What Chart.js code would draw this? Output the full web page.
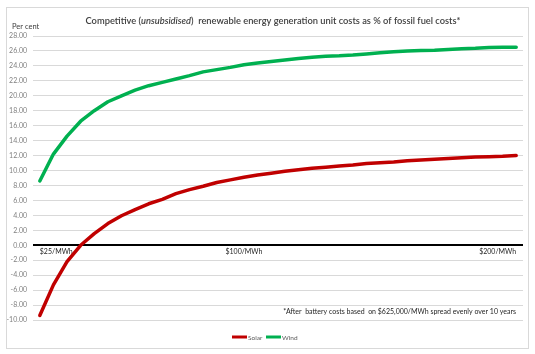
<!DOCTYPE html>
<html>
<head>
<meta charset="utf-8">
<script src="https://cdn.jsdelivr.net/npm/chart.js@4.4.1/dist/chart.umd.min.js"></script>
<style>
  html, body { margin: 0; padding: 0; background: #fff; }
  #wrap { width: 535px; height: 354px; position: relative; }
</style>
</head>
<body>
<div id="wrap"><canvas id="costChart"></canvas></div>
<script>
// generation cost, $/MWh
const prices = [25, 30, 35, 40, 45, 50, 55, 60, 65, 70, 75, 80, 85, 90, 95, 100, 105, 110,
                115, 120, 125, 130, 135, 140, 145, 150, 155, 160, 165, 170, 175, 180, 185, 190, 195, 200];
const labeledPrices = [25, 100, 200];

const solar = [-9.4, -5.3, -2.2, 0.0, 1.55, 2.9, 3.95, 4.78, 5.55, 6.15, 6.9, 7.45,
               7.9, 8.4, 8.75, 9.1, 9.4, 9.65, 9.9, 10.1, 10.3, 10.45, 10.6, 10.75,
               10.95, 11.05, 11.15, 11.3, 11.4, 11.5, 11.6, 11.7, 11.8, 11.85, 11.9, 12.0];
const wind = [8.6, 12.2, 14.6, 16.6, 18.0, 19.2, 20.0, 20.75, 21.35, 21.8, 22.25, 22.7,
              23.2, 23.5, 23.8, 24.15, 24.4, 24.6, 24.8, 25.0, 25.15, 25.3, 25.35, 25.45,
              25.6, 25.75, 25.9, 26.0, 26.05, 26.1, 26.2, 26.3, 26.35, 26.45, 26.5, 26.5];

const yMin = -10, yMax = 28, yStep = 2;

const FONT = "Lato, 'Open Sans', sans-serif";
const SOLAR_COLOR = '#C00000';
const WIND_COLOR = '#00B050';

const decor = {
  id: 'decor',
  beforeDraw(chart) {
    const ctx = chart.ctx;
    ctx.save();
    ctx.strokeStyle = '#d9d9d9';
    ctx.lineWidth = 1;
    ctx.strokeRect(6.5, 7.5, 522, 341);
    ctx.restore();
  },
  afterDraw(chart) {
    const ctx = chart.ctx;
    ctx.save();
    ctx.textBaseline = 'middle';

    // title with italic part, sized to span about 373px like the original
    const parts = [
      { t: 'Competitive (', style: '' },
      { t: 'unsubsidised', style: 'italic ' },
      { t: ')  renewable energy generation unit costs as % of fossil fuel costs*', style: '' }
    ];
    let total = 0;
    parts.forEach(p => { ctx.font = p.style + '10px ' + FONT; total += ctx.measureText(p.t).width; });
    const size = Math.min(11, 10 * 373 / total);
    total = 0;
    parts.forEach(p => { p.f = p.style + '600 ' + size + 'px ' + FONT; ctx.font = p.f; p.w = ctx.measureText(p.t).width; total += p.w; });
    let x = 273 - total / 2;
    ctx.fillStyle = '#404040';
    ctx.textAlign = 'left';
    parts.forEach(p => { ctx.font = p.f; ctx.fillText(p.t, x, 21); x += p.w; });

    // axis caption
    ctx.font = '7.5px ' + FONT;
    ctx.fillStyle = '#404040';
    ctx.fillText('Per cent', 12, 27);

    // footnote
    ctx.font = '7px ' + FONT;
    ctx.fillStyle = '#262626';
    ctx.textAlign = 'right';
    ctx.fillText('*After  battery costs based  on $625,000/MWh spread evenly over 10 years', 516, 312);

    // legend
    const items = [
      { label: 'Solar', color: SOLAR_COLOR, x: 232 },
      { label: 'Wind', color: WIND_COLOR, x: 266 }
    ];
    ctx.font = '6.5px ' + FONT;
    ctx.textAlign = 'left';
    items.forEach(it => {
      ctx.strokeStyle = it.color;
      ctx.lineWidth = 3;
      ctx.beginPath();
      ctx.moveTo(it.x, 337);
      ctx.lineTo(it.x + 15, 337);
      ctx.stroke();
      ctx.fillStyle = '#595959';
      ctx.fillText(it.label, it.x + 16, 337.5);
    });
    ctx.restore();
  }
};

new Chart(document.getElementById('costChart'), {
  type: 'line',
  data: {
    labels: prices,
    datasets: [
      { label: 'Solar', data: solar, borderColor: SOLAR_COLOR, backgroundColor: SOLAR_COLOR,
        borderWidth: 3.5, pointRadius: 0, tension: 0, borderCapStyle: 'round', borderJoinStyle: 'round' },
      { label: 'Wind', data: wind, borderColor: WIND_COLOR, backgroundColor: WIND_COLOR,
        borderWidth: 3.5, pointRadius: 0, tension: 0, borderCapStyle: 'round', borderJoinStyle: 'round' }
    ]
  },
  options: {
    responsive: true,
    maintainAspectRatio: false,
    animation: false,
    layout: { padding: { left: 7, top: 36, right: 12, bottom: 34 } },
    plugins: {
      legend: { display: false },
      title: { display: false },
      tooltip: { enabled: false }
    },
    scales: {
      x: {
        type: 'category',
        offset: true,
        position: { y: 0 },
        grid: { display: false, drawTicks: false },
        border: { display: false },
        ticks: {
          autoSkip: false,
          maxRotation: 0,
          align: 'inner',
          padding: 2,
          color: '#262626',
          font: { family: FONT, size: 7 },
          callback: function(value, index) {
            const p = prices[index];
            return labeledPrices.includes(p) ? '$' + p + '/MWh' : '';
          }
        }
      },
      y: {
        min: yMin,
        max: yMax,
        afterFit: function(scale) { scale.width = 26; },
        grid: {
          drawTicks: false,
          color: ctx => ctx.tick.value === 0 ? '#000000' : '#d9d9d9',
          lineWidth: ctx => ctx.tick.value === 0 ? 2 : 1
        },
        border: { display: false },
        ticks: {
          stepSize: yStep,
          padding: 6,
          color: '#808080',
          font: { family: FONT, size: 7 },
          callback: v => v.toFixed(2)
        }
      }
    }
  },
  plugins: [decor]
});
</script>
</body>
</html>
